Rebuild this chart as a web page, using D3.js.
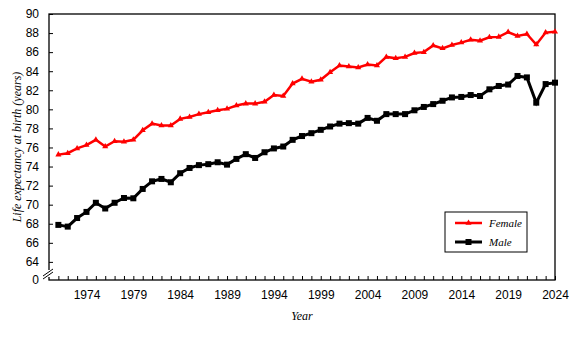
<!DOCTYPE html>
<html>
<head>
<meta charset="utf-8">
<script src="https://cdn.jsdelivr.net/npm/d3@7"></script>
<style>
  body { margin: 0; background: #fff; }
  svg { display: block; }
  .axis text { font-family: "Liberation Sans", Arial, sans-serif; font-size: 12px; fill: #000; }
  .title { font-family: "Liberation Serif", "Times New Roman", serif; font-style: italic; font-size: 12px; fill: #000; }
</style>
</head>
<body>
<div id="chart"></div>
<script>
// data
var years = d3.range(1971, 2025);
var female = [75.25, 75.4, 75.9, 76.25, 76.8, 76.1, 76.65, 76.6, 76.8, 77.8,
  78.5, 78.3, 78.3, 79.0, 79.2, 79.5, 79.7, 79.9, 80.05, 80.4,
  80.6, 80.6, 80.8, 81.5, 81.4, 82.7, 83.2, 82.9, 83.1, 83.9,
  84.6, 84.5, 84.4, 84.7, 84.6, 85.5, 85.35, 85.5, 85.9, 86.0,
  86.7, 86.4, 86.75, 87.0, 87.3, 87.2, 87.55, 87.6, 88.1, 87.7,
  87.9, 86.8, 88.05, 88.15];
var male = [67.88, 67.7, 68.6, 69.24, 70.2, 69.6, 70.2, 70.7, 70.67, 71.65,
  72.45, 72.7, 72.35, 73.3, 73.85, 74.15, 74.25, 74.45, 74.2, 74.8,
  75.3, 74.9, 75.5, 75.9, 76.1, 76.8, 77.2, 77.5, 77.85, 78.2,
  78.5, 78.55, 78.5, 79.1, 78.8, 79.5, 79.5, 79.5, 79.9, 80.25,
  80.55, 80.9, 81.25, 81.3, 81.5, 81.4, 82.1, 82.45, 82.6, 83.5,
  83.35, 80.7, 82.65, 82.8];
var yTicks = d3.range(64, 91, 2);
var xLabelYears = d3.range(1974, 2025, 5);

var width = 575, height = 337;
var pLeft = 49, pRight = 555, pTop = 14, pBottom = 280;

var svg = d3.select('#chart').append('svg')
  .attr('width', width).attr('height', height);

var x = d3.scaleLinear().domain([1970, 2024]).range([pLeft, pRight]);
var y = d3.scaleLinear().domain([62.1, 90]).range([pBottom, pTop]);

// frame
svg.append('rect')
  .attr('x', pLeft).attr('y', pTop)
  .attr('width', pRight - pLeft).attr('height', pBottom - pTop)
  .attr('fill', 'none').attr('stroke', '#000').attr('stroke-width', 1.3);

// y axis
var yAxis = svg.append('g').attr('class', 'axis')
  .attr('transform', 'translate(' + pLeft + ',0)')
  .call(d3.axisLeft(y).tickValues(yTicks).tickSize(-4).tickPadding(10).tickFormat(d3.format('d')));
yAxis.select('.domain').remove();
yAxis.selectAll('line').attr('stroke', '#000');
yAxis.append('text').attr('x', -10).attr('y', pBottom).attr('dy', '0.32em')
  .attr('text-anchor', 'end').text('0');

// x axis
var xAxis = svg.append('g').attr('class', 'axis')
  .attr('transform', 'translate(0,' + pBottom + ')')
  .call(d3.axisBottom(x).tickValues(years).tickSize(-4).tickPadding(10)
    .tickFormat(function (d) { return xLabelYears.indexOf(d) >= 0 ? d : ''; }));
xAxis.select('.domain').remove();
xAxis.selectAll('line').attr('stroke', '#000');

// axis break
svg.append('rect').attr('x', pLeft - 2).attr('y', 270).attr('width', 4).attr('height', 7).attr('fill', '#fff');
svg.append('line').attr('x1', 43).attr('y1', 279).attr('x2', 53).attr('y2', 272)
  .attr('stroke', '#000').attr('stroke-width', 1);
svg.append('line').attr('x1', 43).attr('y1', 276).attr('x2', 53).attr('y2', 269)
  .attr('stroke', '#000').attr('stroke-width', 1);

// titles
svg.append('text').attr('class', 'title')
  .attr('x', (pLeft + pRight) / 2).attr('y', 320).attr('text-anchor', 'middle').text('Year');
svg.append('text').attr('class', 'title')
  .attr('transform', 'translate(21,' + (pTop + pBottom) / 2 + ')rotate(-90)')
  .attr('text-anchor', 'middle').text('Life expectancy at birth (years)');

var line = d3.line().x(function (d) { return x(d[0]); }).y(function (d) { return y(d[1]); });
var femaleData = years.map(function (yr, i) { return [yr, female[i]]; });
var maleData = years.map(function (yr, i) { return [yr, male[i]]; });

// male
svg.append('path').datum(maleData).attr('d', line)
  .attr('fill', 'none').attr('stroke', '#000').attr('stroke-width', 3);
svg.selectAll('.msq').data(maleData).enter().append('rect')
  .attr('x', function (d) { return x(d[0]) - 3; })
  .attr('y', function (d) { return y(d[1]) - 3; })
  .attr('width', 6).attr('height', 6).attr('fill', '#000');

// female
svg.append('path').datum(femaleData).attr('d', line)
  .attr('fill', 'none').attr('stroke', '#ff0000').attr('stroke-width', 2.5);
var tri = d3.symbol().type(d3.symbolTriangle).size(16);
svg.selectAll('.ftri').data(femaleData).enter().append('path')
  .attr('d', tri)
  .attr('transform', function (d) { return 'translate(' + x(d[0]) + ',' + y(d[1]) + ')'; })
  .attr('fill', '#ff0000');

// legend
var lg = svg.append('g');
lg.append('rect').attr('x', 445).attr('y', 212).attr('width', 82).attr('height', 40)
  .attr('fill', '#fff').attr('stroke', '#000').attr('stroke-width', 1);
lg.append('line').attr('x1', 455).attr('x2', 482).attr('y1', 223).attr('y2', 223)
  .attr('stroke', '#ff0000').attr('stroke-width', 2.5);
lg.append('path').attr('d', tri).attr('transform', 'translate(468.5,223)').attr('fill', '#ff0000');
lg.append('text').attr('class', 'title').attr('x', 489).attr('y', 227).style('font-size', '11px').text('Female');
lg.append('line').attr('x1', 455).attr('x2', 482).attr('y1', 242).attr('y2', 242)
  .attr('stroke', '#000').attr('stroke-width', 3);
lg.append('rect').attr('x', 465.5).attr('y', 239).attr('width', 6).attr('height', 6).attr('fill', '#000');
lg.append('text').attr('class', 'title').attr('x', 489).attr('y', 246).style('font-size', '11px').text('Male');
</script>
</body>
</html>
